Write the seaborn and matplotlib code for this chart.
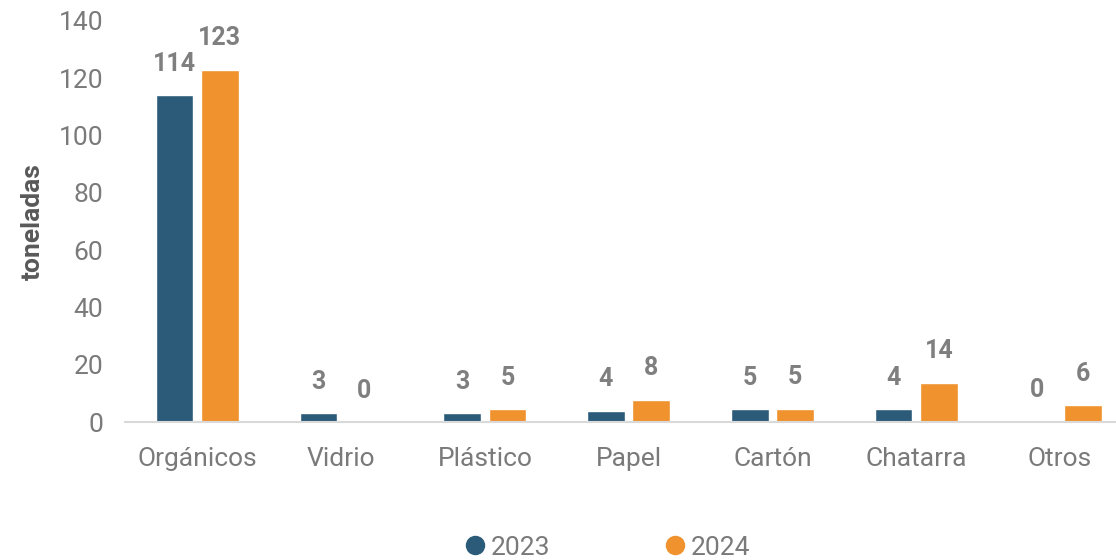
import matplotlib
matplotlib.use("Agg")
import matplotlib.pyplot as plt
from matplotlib.lines import Line2D
import seaborn as sns
import pandas as pd

# Waste collected per material, in tonnes
categorias = ["Orgánicos", "Vidrio", "Plástico", "Papel", "Cartón", "Chatarra", "Otros"]
valores_2023 = [114.0, 3.0, 3.0, 4.0, 4.6, 4.4, 0.4]
valores_2024 = [123.0, 0.0, 4.6, 7.8, 4.7, 13.7, 5.9]
anios = ["2023", "2024"]
colores = {"2023": "#2B5B79", "2024": "#F0922E"}

df = pd.DataFrame({
    "categoria": categorias * 2,
    "toneladas": valores_2023 + valores_2024,
    "anio": [anios[0]] * len(categorias) + [anios[1]] * len(categorias),
})

sns.set_style("white")
plt.rcParams["font.family"] = ["Roboto", "DejaVu Sans"]

fig = plt.figure(figsize=(11.16, 5.6), dpi=100)
ax = fig.add_axes([0.1123, 0.2464, 0.902, 0.7161])

sns.barplot(data=df, x="categoria", y="toneladas", hue="anio",
            palette=colores, width=0.63, gap=0.17, legend=False,
            saturation=1, ax=ax, errorbar=None)

ax.set_xlim(-0.5, len(categorias) - 0.5)
ax.set_ylim(0, 140)
ax.set_yticks(range(0, 141, 20))

tick_color = "#7A7A7A"
ax.tick_params(axis="y", length=0, pad=16, labelsize=19, labelcolor=tick_color)
ax.tick_params(axis="x", length=0, pad=18, labelsize=19, labelcolor=tick_color)

ax.set_xlabel("")
ax.set_ylabel("toneladas", fontsize=19, fontweight="bold", color="#595959", labelpad=10)

for side in ["top", "right", "left"]:
    ax.spines[side].set_visible(False)
ax.spines["bottom"].set_color("#D9D9D9")
ax.spines["bottom"].set_linewidth(1.5)
ax.grid(False)

# Value labels above each bar
for container, serie in zip(ax.containers, [valores_2023, valores_2024]):
    for bar, v in zip(container, serie):
        ax.annotate(f"{round(v):d}",
                    xy=(bar.get_x() + bar.get_width() / 2, bar.get_height()),
                    xytext=(0, 17.5), textcoords="offset points",
                    ha="center", va="baseline", fontsize=18,
                    fontweight="bold", color="#7F7F7F")

handles = [Line2D([], [], marker="o", linestyle="none", markersize=13,
                  markerfacecolor=colores[a], markeredgecolor=colores[a])
           for a in anios]
fig.legend(handles, anios, loc="center", bbox_to_anchor=(0.543, 0.022),
           ncol=2, frameon=False, fontsize=19, labelcolor=tick_color,
           handletextpad=0.1, columnspacing=4.2, handlelength=1.0)

fig.savefig("out.png", dpi=100)
